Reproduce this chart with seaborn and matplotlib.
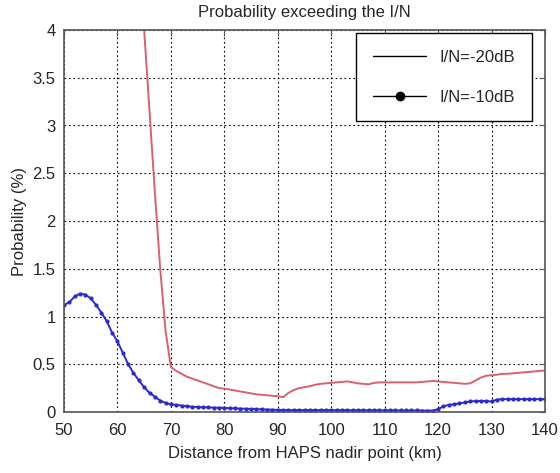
import numpy as np
import pandas as pd
import matplotlib
matplotlib.use("Agg")
import matplotlib.pyplot as plt
from matplotlib.lines import Line2D
import seaborn as sns

# ---- data ----
red_x = list(range(64, 141))
red_y = [4.85, 4.0, 3.15, 2.3, 1.5, 0.85, 0.47, 0.43, 0.40, 0.37,
         0.35, 0.33, 0.31, 0.29, 0.27, 0.25, 0.245, 0.235, 0.225, 0.215,
         0.205, 0.195, 0.185, 0.18, 0.175, 0.17, 0.165, 0.155, 0.20, 0.23,
         0.25, 0.26, 0.27, 0.285, 0.295, 0.30, 0.305, 0.31, 0.315, 0.32,
         0.31, 0.30, 0.295, 0.29, 0.305, 0.31, 0.31, 0.31, 0.31, 0.31,
         0.31, 0.31, 0.31, 0.315, 0.32, 0.325, 0.32, 0.315, 0.31, 0.305,
         0.30, 0.295, 0.30, 0.33, 0.36, 0.38, 0.385, 0.39, 0.40, 0.40,
         0.405, 0.41, 0.415, 0.42, 0.425, 0.43, 0.435]

blue_x = list(range(50, 141))
blue_y = [1.12, 1.15, 1.21, 1.24, 1.23, 1.19, 1.12, 1.04, 0.95, 0.83,
          0.74, 0.62, 0.50, 0.41, 0.33, 0.26, 0.20, 0.16, 0.12, 0.095,
          0.08, 0.075, 0.068, 0.06, 0.055, 0.052, 0.05, 0.048, 0.046, 0.045,
          0.043, 0.04, 0.038, 0.036, 0.034, 0.032, 0.03, 0.028, 0.026, 0.024,
          0.022, 0.021, 0.02, 0.02, 0.02, 0.02, 0.02, 0.02, 0.02, 0.02,
          0.019, 0.019, 0.019, 0.019, 0.018, 0.018, 0.018, 0.018, 0.018, 0.017,
          0.017, 0.017, 0.017, 0.016, 0.016, 0.016, 0.016, 0.015, 0.015, 0.015,
          0.03, 0.06, 0.075, 0.08, 0.09, 0.10, 0.11, 0.115, 0.115, 0.115,
          0.11, 0.13, 0.135, 0.135, 0.135, 0.135, 0.135, 0.135, 0.135, 0.135,
          0.135]

labels = ["I/N=-20dB", "I/N=-10dB"]
x_ticks = list(range(50, 141, 10))
y_ticks = [0, 0.5, 1, 1.5, 2, 2.5, 3, 3.5, 4]
y_tick_labels = ["0", "0.5", "1", "1.5", "2", "2.5", "3", "3.5", "4"]

sns.set_style("white")
plt.rcParams['font.family'] = ['Liberation Sans', 'DejaVu Sans']

fig = plt.figure(figsize=(5.6, 4.73), dpi=100)
ax = fig.add_axes([64/560, 61/473, 481/560, 382/473])

df_r = pd.DataFrame({"x": red_x, "y": red_y})
df_b = pd.DataFrame({"x": blue_x, "y": blue_y})

red_c = "#d9606e"
blue_c = "#2a2ad0"
sns.lineplot(data=df_r, x="x", y="y", ax=ax, color=red_c, lw=1.4)
sns.lineplot(data=df_b, x="x", y="y", ax=ax, color=blue_c, lw=1.4,
             marker="o", markersize=3, markeredgewidth=0)

ax.set_xlim(50, 140)
ax.set_ylim(0, 4)
ax.set_xticks(x_ticks)
ax.set_yticks(y_ticks)
ax.set_yticklabels(y_tick_labels)
ax.tick_params(direction="in", top=True, right=True, length=4,
               labelsize=12, color="#555555")
ax.tick_params(axis="x", pad=8)
ax.tick_params(axis="y", pad=6)
ax.grid(True, color="black", linestyle=(0, (1.5, 2.5)), lw=0.8)
for s in ax.spines.values():
    s.set_color("#555555")
    s.set_linewidth(1.2)

ax.set_xlabel("Distance from HAPS nadir point (km)", fontsize=12, labelpad=6)
ax.set_ylabel("Probability (%)", fontsize=12, labelpad=4)
ax.set_title("Probability exceeding the I/N", fontsize=12, pad=9)

handles = [Line2D([], [], color="black", lw=1),
           Line2D([], [], color="black", lw=1, marker="o", markersize=6)]
leg = ax.legend(handles, labels, loc="upper right", fontsize=12,
                frameon=True, fancybox=False, edgecolor="black",
                borderpad=1.0, labelspacing=1.5, handlelength=3.2,
                borderaxespad=0, bbox_to_anchor=(0.973, 0.992))
leg.get_frame().set_linewidth(1.0)
leg.get_frame().set_alpha(1)

fig.savefig("out.png", dpi=100)
